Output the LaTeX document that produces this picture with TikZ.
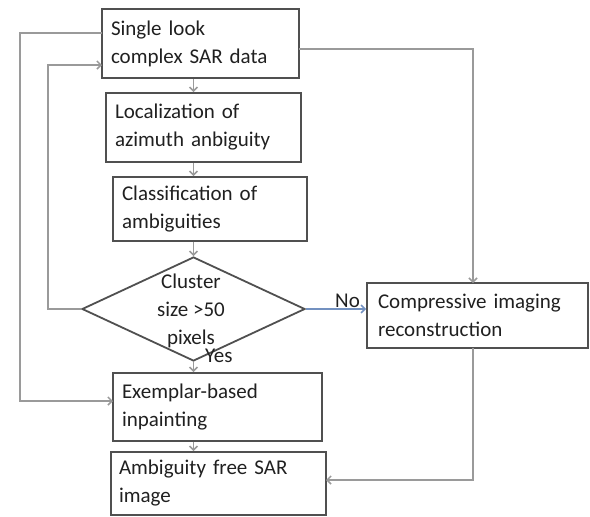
\documentclass[tikz,border=0pt]{standalone}
\usepackage{fontspec}
\setmainfont{Carlito}
\usetikzlibrary{arrows.meta,shapes.geometric}
\definecolor{boxline}{HTML}{505050}
\definecolor{conn}{HTML}{9A9A9A}
\definecolor{noline}{HTML}{7391C0}
\definecolor{txt}{HTML}{202020}
\begin{document}
\begin{tikzpicture}[x=1pt,y=-1pt,
  font=\fontsize{21}{28}\selectfont,
  stepbox/.style={draw=boxline, line width=1.8pt, inner xsep=9pt, inner ysep=0pt, align=left, text=txt},
  conn/.style={draw=conn, line width=1.5pt},
  arr/.style={conn, -{Straight Barb[length=4pt,width=8pt]}},
  lbl/.style={text=txt, inner sep=0pt}]
\useasboundingbox (0,0) rectangle (590,517);
\node[stepbox, minimum width=197, minimum height=69, text width=179] (b1) at (200.5,43.5) {Single look\\complex SAR data};
\node[stepbox, minimum width=195, minimum height=69, text width=177, inner xsep=7pt] (b2) at (203.5,127.5) {Localization of\\azimuth anbiguity};
\node[stepbox, minimum width=194, minimum height=64, text width=176] (b3) at (210,209) {Classification of\\ambiguities};
\node[draw=boxline, line width=1.8pt, diamond, inner sep=0pt, minimum width=223, minimum height=104] (d) at (193.5,309) {};
\node[lbl, align=center] (dt) at (191,311) {Cluster\\size >50\\pixels};
\node[stepbox, minimum width=221, minimum height=65, text width=199, inner xsep=11pt] (c) at (477.5,315.5) {Compressive imaging\\reconstruction};
\node[stepbox, minimum width=209, minimum height=68, text width=191] (e) at (217.5,407) {Exemplar-based\\inpainting};
\node[stepbox, minimum width=215, minimum height=63, text width=199, inner xsep=8pt] (a) at (218.5,483.5) {Ambiguity free SAR\\image};
\node[lbl, anchor=base west] (no) at (335,307) {No};
\node[lbl, anchor=base west] (yes) at (205,362) {Yes};
% vertical chain
\draw[arr] (b1.south -| d.north) -- (b2.north -| d.north);
\draw[arr] (b2.south -| d.north) -- (b3.north -| d.north);
\draw[arr] (b3.south -| d.north) -- (d.north);
\draw[arr] (d.south) -- (e.north -| d.south);
\draw[arr] (e.south -| d.south) -- (a.north -| d.south);
% No branch
\draw[draw=noline, line width=1.5pt, -{Straight Barb[length=4pt,width=8pt]}] (d.east) -- (c.west |- d.east);
% outer left loop
\coordinate (o1) at (102,33);
\coordinate (o2) at (20,33);
\coordinate (o3) at (20,401);
\coordinate (o4) at (113,401);
\draw[arr] (o1) -- (o2) -- (o3) -- (o4);
% inner left loop
\coordinate (i1) at (48,309);
\coordinate (i2) at (48,65);
\coordinate (i3) at (102,65);
\draw[arr] (d.west) -- (i1) -- (i2) -- (i3);
% right path
\coordinate (r1) at (299,49);
\coordinate (r2) at (473,49);
\coordinate (r3) at (473,283);
\draw[arr] (r1) -- (r2) -- (r3);
\coordinate (s1) at (473,348);
\coordinate (s2) at (473,480);
\coordinate (s3) at (326,480);
\draw[arr] (s1) -- (s2) -- (s3);
\end{tikzpicture}
\end{document}
